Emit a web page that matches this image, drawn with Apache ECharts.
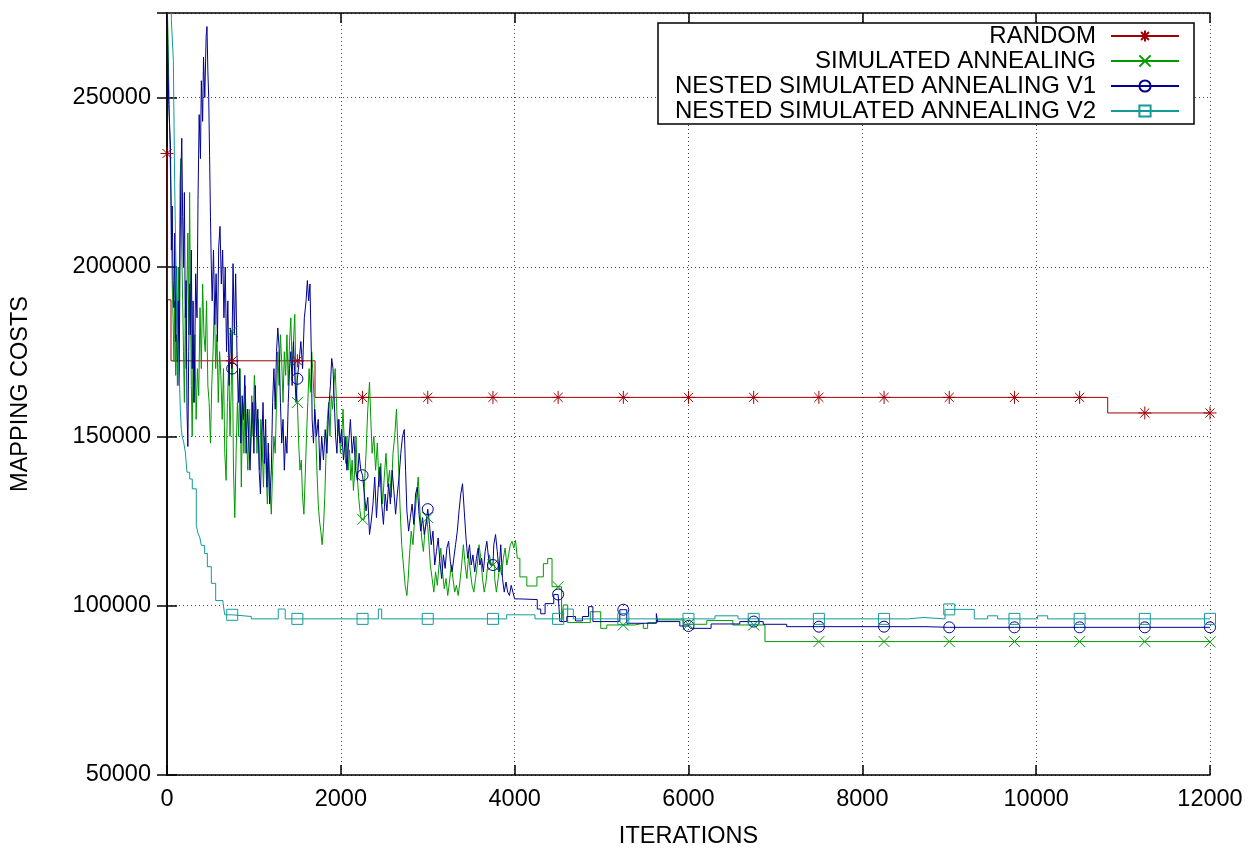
<!DOCTYPE html>
<html>
<head>
<meta charset="utf-8">
<script src="https://cdn.jsdelivr.net/npm/echarts@6/dist/echarts.min.js"></script>
<style>
  html, body { margin: 0; padding: 0; background: #fff; }
  #chart { width: 1258px; height: 854px; }
</style>
</head>
<body>
<div id="chart"></div>
<script>
// values in thousands of cost units: [iteration, cost]
const randomK = [
  [0, 233.5], [5, 190.3], [46, 172.3], [1703, 161.5], [10823, 156.9], [12000, 156.9]
];

const simAnnealingK = [
  [0, 280], [10, 270], [20, 255], [30, 240], [40, 228], [50, 217], [60, 195], [70, 185], [80, 172], [90, 190],
  [100, 168], [110, 180], [120, 165], [130, 200], [140, 178], [150, 225], [160, 232], [170, 205], [180, 190], [190, 175],
  [200, 160], [210, 185], [220, 170], [230, 195], [240, 210], [250, 180], [260, 222], [270, 190], [280, 165], [290, 150],
  [300, 175], [310, 160], [320, 180], [335, 155], [350, 170], [365, 162], [380, 188], [395, 170], [410, 195], [425, 180],
  [440, 175], [455, 190], [470, 165], [485, 160], [500, 148], [515, 165], [530, 175], [545, 190], [560, 170], [575, 180],
  [590, 160], [605, 175], [620, 168], [635, 155], [650, 170], [665, 145], [680, 137], [695, 160], [710, 172], [725, 150],
  [740, 165], [750, 181], [765, 140], [780, 126], [795, 145], [810, 160], [825, 150], [840, 170], [855, 135], [870, 160],
  [885, 145], [900, 165], [915, 150], [930, 140], [945, 158], [960, 145], [975, 162], [990, 150], [1005, 168], [1020, 160],
  [1035, 145], [1050, 155], [1065, 140], [1080, 155], [1095, 148], [1110, 135], [1125, 150], [1140, 140], [1155, 130], [1170, 145],
  [1185, 135], [1200, 127], [1215, 140], [1230, 150], [1245, 145], [1260, 160], [1275, 175], [1290, 165], [1305, 180], [1320, 172],
  [1335, 160], [1350, 175], [1365, 168], [1380, 180], [1395, 165], [1410, 178], [1425, 185], [1440, 170], [1455, 178], [1470, 186],
  [1485, 165], [1500, 160], [1515, 148], [1530, 140], [1545, 143], [1560, 132], [1575, 127], [1590, 138], [1605, 150], [1620, 160],
  [1635, 170], [1650, 163], [1665, 175], [1680, 168], [1695, 160], [1710, 152], [1725, 140], [1740, 130], [1755, 125], [1770, 122],
  [1785, 118], [1800, 123], [1815, 132], [1830, 145], [1845, 155], [1860, 160], [1875, 150], [1890, 162], [1905, 158], [1920, 165],
  [1935, 170], [1950, 160], [1965, 150], [1980, 155], [1995, 145], [2010, 150], [2025, 158], [2040, 148], [2055, 142], [2070, 150],
  [2085, 140], [2100, 146], [2115, 137], [2130, 143], [2145, 134], [2160, 140], [2175, 150], [2190, 138], [2205, 132], [2220, 128],
  [2235, 125.5], [2270, 135], [2290, 145], [2310, 158], [2330, 166], [2345, 155], [2360, 145], [2380, 150], [2400, 140], [2420, 148],
  [2440, 135], [2460, 142], [2480, 130], [2500, 138], [2520, 145], [2540, 135], [2560, 140], [2580, 132], [2600, 145], [2620, 150],
  [2640, 158], [2660, 145], [2680, 130], [2700, 118], [2720, 112], [2740, 106], [2760, 103], [2775, 108], [2790, 115], [2810, 122],
  [2830, 118], [2850, 126], [2870, 132], [2890, 138], [2910, 128], [2930, 120], [2950, 116], [2970, 123], [2990, 126], [3010, 120],
  [3030, 112], [3050, 108], [3070, 104], [3090, 110], [3110, 106], [3130, 112], [3150, 117], [3170, 110], [3190, 105], [3210, 108],
  [3230, 103], [3250, 107], [3270, 112], [3290, 108], [3310, 104], [3330, 106], [3350, 103], [3370, 107], [3390, 112], [3410, 118],
  [3430, 112], [3450, 108], [3470, 115], [3490, 110], [3510, 106], [3530, 104], [3550, 108], [3570, 112], [3590, 118], [3610, 114],
  [3630, 108], [3650, 104], [3670, 107], [3690, 112], [3710, 115], [3730, 112], [3770, 108], [3790, 104], [3810, 108], [3830, 112],
  [3850, 109], [3870, 114], [3890, 117], [3910, 112], [3930, 115], [3950, 118], [3970, 119], [3990, 117], [4010, 119.3], [4030, 114],
  [4060, 108.5], [4140, 105.8], [4256, 108.5], [4330, 112.4], [4380, 113.9], [4430, 105.6], [4540, 95.3], [4560, 100.2], [4610, 95.0], [4870, 98.2],
  [4990, 93.3], [5060, 94.3], [5380, 94.8], [5480, 93.3], [5530, 95.0], [5640, 95.8], [5940, 94.5], [6210, 95.6], [6510, 94.3], [6880, 89.4],
  [12000, 89.3]
];

const nestedV1K = [
  [0, 280], [10, 262], [20, 248], [30, 242], [40, 236], [50, 205], [60, 218], [70, 196], [80, 188], [90, 210],
  [100, 178], [110, 200], [120, 172], [130, 190], [140, 165], [150, 205], [160, 228], [170, 238], [180, 215], [190, 200],
  [200, 222], [210, 185], [220, 196], [230, 158], [240, 147], [250, 175], [260, 195], [270, 180], [280, 205], [290, 170],
  [300, 190], [310, 160], [320, 176], [330, 198], [345, 185], [357, 220], [370, 245], [385, 232], [395, 255], [410, 243],
  [420, 262], [435, 250], [450, 268], [460, 271], [470, 258], [480, 250], [490, 233], [500, 215], [510, 200], [520, 190],
  [535, 205], [550, 183], [565, 198], [580, 178], [595, 206], [610, 212], [625, 195], [640, 205], [655, 185], [670, 200],
  [685, 175], [700, 190], [715, 165], [730, 182], [745, 170], [760, 201], [775, 180], [790, 198], [805, 175], [820, 160],
  [835, 170], [850, 148], [865, 162], [880, 155], [895, 168], [910, 145], [925, 158], [940, 150], [955, 140], [970, 152],
  [985, 160], [1000, 145], [1015, 165], [1030, 150], [1045, 158], [1060, 140], [1075, 133], [1090, 148], [1105, 160], [1120, 142],
  [1135, 155], [1150, 135], [1165, 148], [1180, 130], [1200, 140], [1215, 160], [1230, 170], [1245, 158], [1260, 175], [1275, 182],
  [1290, 176], [1305, 160], [1320, 148], [1335, 155], [1350, 140], [1365, 150], [1380, 145], [1395, 160], [1410, 170], [1425, 175],
  [1440, 165], [1455, 178], [1470, 168], [1485, 160], [1500, 167], [1520, 172], [1540, 178], [1560, 170], [1580, 185], [1600, 190],
  [1615, 196], [1630, 190], [1645, 195], [1660, 175], [1670, 155], [1685, 148], [1700, 158], [1720, 150], [1740, 155], [1760, 140],
  [1780, 150], [1800, 143], [1820, 152], [1840, 145], [1860, 158], [1880, 165], [1895, 173], [1910, 170], [1925, 160], [1940, 150],
  [1955, 145], [1970, 155], [1990, 148], [2010, 152], [2030, 143], [2050, 150], [2070, 140], [2090, 148], [2110, 155], [2130, 145],
  [2150, 150], [2170, 140], [2190, 137], [2210, 145], [2230, 140], [2250, 138.5], [2270, 133], [2290, 128], [2310, 132], [2330, 121],
  [2350, 125], [2370, 130], [2390, 138], [2410, 126], [2430, 135], [2450, 141], [2470, 130], [2490, 124], [2510, 133], [2530, 128],
  [2550, 136], [2570, 130], [2590, 140], [2610, 134], [2630, 127], [2650, 133], [2670, 138], [2690, 145], [2710, 150], [2730, 152],
  [2745, 140], [2760, 128], [2780, 122], [2800, 126], [2820, 130], [2840, 124], [2860, 133], [2880, 135], [2900, 127], [2920, 122],
  [2940, 126], [2960, 121], [2980, 124], [3000, 128.5], [3020, 124], [3040, 118], [3060, 122], [3080, 112], [3100, 116], [3120, 120],
  [3140, 113], [3160, 108], [3180, 115], [3200, 111], [3220, 117], [3240, 119], [3260, 113], [3280, 110], [3300, 114], [3320, 118],
  [3340, 122], [3360, 128], [3380, 133], [3400, 136], [3420, 128], [3440, 120], [3460, 114], [3480, 118], [3500, 112], [3520, 115],
  [3540, 110], [3560, 114], [3580, 117], [3600, 112], [3620, 114], [3640, 110], [3660, 116], [3680, 119], [3700, 114], [3720, 112],
  [3760, 118], [3780, 121], [3800, 116], [3820, 110], [3840, 118], [3860, 108], [3880, 104], [3900, 107], [3920, 104], [3940, 103],
  [3960, 106], [3980, 104], [4000, 102], [4060, 101.8], [4260, 99], [4300, 97.6], [4350, 100.6], [4450, 103.3], [4520, 95.3], [4600, 96.8],
  [4700, 95.5], [4780, 96.8], [4850, 99.7], [4900, 95.3], [5210, 98.8], [5290, 94.8], [5630, 97.7], [5645, 95.3], [5900, 94.0], [6020, 93.3],
  [6260, 94.6], [6590, 95.3], [6860, 94.5], [7130, 93.8], [8720, 93.6], [12000, 93.6]
];

const nestedV2K = [
  [0, 280], [50, 273], [73, 261], [88, 225], [100, 205], [115, 185], [130, 172], [145, 165], [153, 158], [165, 152],
  [175, 150], [192, 148.2], [211, 145.3], [230, 139.4], [261, 137.4], [291, 134.5], [337, 123.7], [357, 121.3], [376, 120.3], [395, 117.8],
  [433, 115.4], [464, 111.5], [510, 106.6], [560, 101.5], [644, 100.9], [664, 97.3], [759, 96.8], [970, 96.1], [1280, 99.0], [1360, 96.1],
  [2432, 99.0], [2470, 96.1], [3908, 97.3], [4234, 96.1], [4560, 99.0], [4675, 96.1], [6305, 97.0], [6570, 96.1], [8530, 96.5], [8700, 96.1],
  [8951, 98.9], [9288, 96.1], [9442, 97.0], [9557, 96.1], [10017, 97.0], [10132, 96.1], [12000, 96.1]
];

// gnuplot draws a point every 750 iterations
const markerIters = [0, 750, 1500, 2250, 3000, 3750, 4500, 5250, 6000, 6750, 7500, 8250, 9000, 9750, 10500, 11250, 12000];

const xTicks = { min: 0, max: 12000, interval: 2000 };
const yTicks = { min: 50000, max: 275000, interval: 50000 };

const FONT = 'Liberation Sans, Arial, Helvetica, sans-serif';

// turn [iter, costK] points into line data, flagging the points that carry a marker
function withMarkers(pointsK) {
  const pts = pointsK.map(p => ({ x: p[0], y: p[1] * 1000, mark: false }));
  markerIters.forEach(m => {
    const same = pts.find(p => p.x === m);
    if (same) { same.mark = true; return; }
    let prev = null;
    pts.forEach(p => { if (p.x < m && (!prev || p.x > prev.x)) prev = p; });
    if (prev) pts.push({ x: m, y: prev.y, mark: true });
  });
  pts.sort((a, b) => a.x - b.x);
  return pts.map(p => p.mark ? { value: [p.x, p.y] } : { value: [p.x, p.y], symbol: 'none' });
}

const STAR = 'path://M0,5L10,5M5,0L5,10M1.5,1.5L8.5,8.5M8.5,1.5L1.5,8.5';
const CROSS = 'path://M0,0L10,10M10,0L0,10';

function stepSeries(name, pointsK, color, symbol, size) {
  return {
    name: name,
    type: 'line',
    step: 'end',
    data: withMarkers(pointsK),
    symbol: symbol,
    symbolSize: size,
    showSymbol: true,
    showAllSymbol: true,
    clip: true,
    lineStyle: { color: color, width: 1 },
    itemStyle: { color: 'rgba(0,0,0,0)', borderColor: color, borderWidth: 1 },
    emphasis: { disabled: true }
  };
}

const series = [
  stepSeries('RANDOM', randomK, '#a00000', STAR, 13),
  stepSeries('SIMULATED ANNEALING', simAnnealingK, '#009a00', CROSS, 11),
  stepSeries('NESTED SIMULATED ANNEALING V1', nestedV1K, '#000094', 'circle', 11),
  stepSeries('NESTED SIMULATED ANNEALING V2', nestedV2K, '#139a9a', 'rect', 11)
];

const legendRows = [36, 61, 86, 111];
const legends = series.map((s, i) => ({
  data: [s.name],
  orient: 'horizontal',
  align: 'right',
  right: 78,
  top: legendRows[i] - 12,
  padding: 0,
  itemWidth: 68,
  itemHeight: 14,
  selectedMode: false,
  z: 10,
  textStyle: { fontFamily: FONT, fontSize: 24, color: '#000', lineHeight: 24, padding: [0, 10, 0, 0] }
}));

const tickLabel = { fontFamily: FONT, fontSize: 23.5, color: '#000' };
const border = { show: true, lineStyle: { color: '#000', width: 1.5 } };
const dotted = { show: true, lineStyle: { color: '#444', width: 1, type: [1, 3] } };
const innerTick = { show: true, inside: true, length: 10, lineStyle: { color: '#000', width: 1.5 } };

const chart = echarts.init(document.getElementById('chart'), null, { renderer: 'canvas' });
chart.setOption({
  animation: false,
  backgroundColor: '#fff',
  grid: { left: 167, right: 48, top: 13, bottom: 75, containLabel: false },
  legend: legends,
  xAxis: [
    {
      type: 'value', min: xTicks.min, max: xTicks.max, interval: xTicks.interval,
      name: 'ITERATIONS', nameLocation: 'middle', nameGap: 50,
      nameTextStyle: tickLabel,
      axisLine: border,
      axisTick: innerTick,
      axisLabel: Object.assign({ margin: 13, formatter: v => String(v) }, tickLabel),
      splitLine: dotted
    },
    {
      type: 'value', position: 'top', min: xTicks.min, max: xTicks.max, interval: xTicks.interval,
      axisLine: border,
      axisTick: innerTick,
      axisLabel: { show: false },
      splitLine: { show: false }
    }
  ],
  yAxis: [
    {
      type: 'value', min: yTicks.min, max: yTicks.max, interval: yTicks.interval,
      name: 'MAPPING COSTS', nameLocation: 'middle', nameGap: 134, nameRotate: 90,
      nameTextStyle: tickLabel,
      axisLine: border,
      axisTick: innerTick,
      axisLabel: Object.assign({ margin: 16, showMaxLabel: false, formatter: v => String(v) }, tickLabel),
      splitLine: dotted
    },
    {
      type: 'value', position: 'right', min: yTicks.min, max: yTicks.max, interval: yTicks.interval,
      axisLine: border,
      axisTick: innerTick,
      axisLabel: { show: false },
      splitLine: { show: false }
    }
  ],
  graphic: [
    {
      type: 'rect', z: 3,
      shape: { x: 658, y: 23, width: 536, height: 101 },
      style: { fill: '#fff', stroke: '#000', lineWidth: 1.5 }
    }
  ],
  series: series
});
</script>
</body>
</html>
